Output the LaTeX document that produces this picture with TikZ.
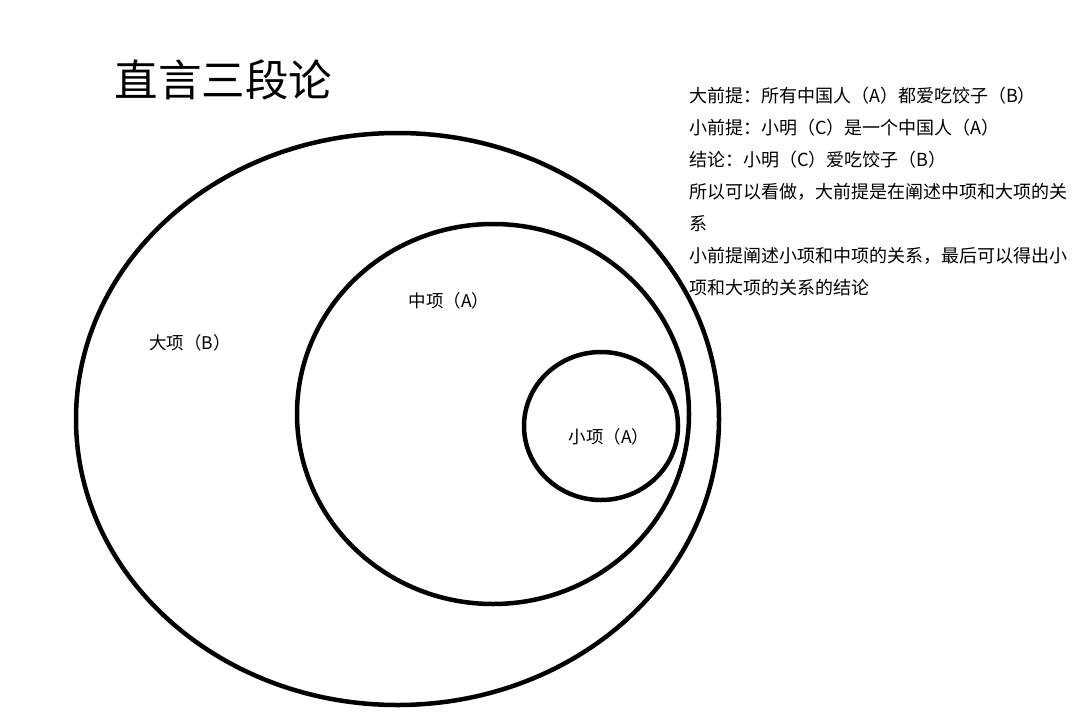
\documentclass[tikz,border=0pt]{standalone}
\usepackage{fontspec}
\newfontfamily\cjk{Noto Sans CJK SC}

\begin{document}
\begin{tikzpicture}[x=1pt,y=-1pt,
    ring/.style={line width=4.5pt},
    term/.style={font=\cjk\fontsize{17.5}{20}\selectfont}]
    \useasboundingbox (0,0) rectangle (1083,720);

    \draw[ring](397.5,419) ellipse [x radius=321.5, y radius=286];
    \draw[ring](493,414) ellipse [x radius=196, y radius=190];
    \draw[ring](601,426) ellipse [x radius=77, y radius=74];

    \node[anchor=west,font=\cjk\fontsize{43.5}{46}\selectfont] (title) at (111,80) {直言三段论};

    \node[term] (big) at (190,343) {大项（B）};
    \node[term] (mid) at (449,301) {中项（A）};
    \node[term] (small) at (609,437) {小项（A）};

    \node[anchor=north west,align=left,inner sep=0pt,
          font=\cjk\fontsize{18}{32}\selectfont] (notes) at (689,87)
        {大前提：所有中国人（A）都爱吃饺子（B）\\
         小前提：小明（C）是一个中国人（A）\\
         结论：小明（C）爱吃饺子（B）\\
         所以可以看做，大前提是在阐述中项和大项的关\\
         系\\
         小前提阐述小项和中项的关系，最后可以得出小\\
         项和大项的关系的结论};
\end{tikzpicture}
\end{document}
